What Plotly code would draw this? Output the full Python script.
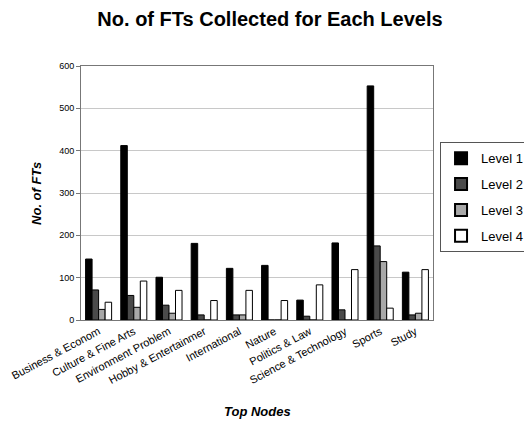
import plotly.graph_objects as go

categories = ["Business & Econom", "Culture & Fine Arts", "Environment Problem",
              "Hobby & Entertainmer", "International", "Nature", "Politics & Law",
              "Science & Technology", "Sports", "Study"]
level1 = [144, 412, 101, 181, 122, 129, 47, 182, 553, 113]
level2 = [71, 58, 35, 12, 12, 0, 9, 24, 175, 12]
level3 = [25, 30, 16, 0, 12, 0, 0, 0, 138, 16]
level4 = [42, 92, 70, 46, 70, 46, 83, 119, 28, 119]
series_names = ["Level 1", "Level 2", "Level 3", "Level 4"]
colors = ["#000000", "#4a4a4a", "#a8a8a8", "#ffffff"]

fig = go.Figure()
for name, vals, col in zip(series_names, [level1, level2, level3, level4], colors):
    fig.add_trace(go.Bar(x=categories, y=vals, name=name, legendgroup=name,
                         marker=dict(color=col, line=dict(color="#000000", width=1))))

# page body has an 8px default margin, so the figure is 8px smaller than the window
fig.update_layout(
    width=524, height=417,
    paper_bgcolor="white", plot_bgcolor="white",
    margin=dict(l=73, r=99, t=58, b=105, autoexpand=False),
    font=dict(family="Liberation Sans, Arial, sans-serif", color="#000"),
    title=dict(text="<b>No. of FTs Collected for Each Levels</b>", x=0.5, xanchor="center",
               y=0.974, yanchor="middle", font=dict(size=20)),
    barmode="group", bargap=0.26, bargroupgap=0,
    showlegend=True,
    legend=dict(x=1.02, y=0.70, xanchor="left", yanchor="top",
                bordercolor="#555", borderwidth=1, font=dict(size=13),
                itemsizing="constant", tracegroupgap=6),
    annotations=[
        dict(text="<b><i>Top Nodes</i></b>", xref="paper", yref="paper", x=0.5, y=-0.362,
             xanchor="center", yanchor="middle", showarrow=False, font=dict(size=13)),
        dict(text="<b><i>No. of FTs</i></b>", xref="paper", yref="paper", x=-0.128, y=0.5,
             xanchor="center", yanchor="middle", showarrow=False, textangle=-90,
             font=dict(size=13)),
    ],
)
fig.update_xaxes(tickangle=-28, tickfont=dict(size=11), showline=True, linecolor="#777",
                 mirror=True, ticks="", automargin=False)
fig.update_yaxes(range=[0, 600], dtick=100, tickfont=dict(size=9), showgrid=True,
                 gridcolor="#c8c8c8", showline=True, linecolor="#777", mirror=True,
                 ticks="outside", ticklen=4, tickcolor="#777", automargin=False)

fig.write_html("out.html")
